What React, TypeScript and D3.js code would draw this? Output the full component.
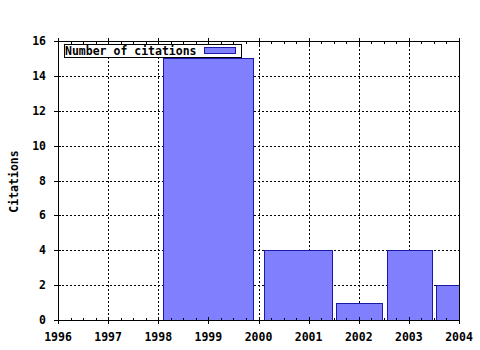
import React from "react";
import * as d3 from "d3";

const barStarts = [1998.1, 2000.1, 2001.55, 2002.56, 2003.55];
const barEnds = [1999.9, 2001.46, 2002.46, 2003.46, 2004.45];
const citations = [15, 4, 1, 4, 2];
const xTicks = [1996, 1997, 1998, 1999, 2000, 2001, 2002, 2003, 2004];
const yTicks = [0, 2, 4, 6, 8, 10, 12, 14, 16];
const legendLabel = "Number of citations";
const yTitle = "Citations";

const W = 480, H = 350;
const left = 58, right = 459, top = 41, bottom = 320;
const font = "'DejaVu Sans Mono', 'Liberation Mono', monospace";

export default function App() {
  const x = d3.scaleLinear().domain([1996, 2004]).range([left, right]);
  const y = d3.scaleLinear().domain([0, 16]).range([bottom, top]);
  const minor = d3.range(1996, 2004.001, 0.25).filter((v) => Math.abs(v - Math.round(v)) > 1e-6);

  return (
    <svg width={W} height={H} style={{ position: "absolute", left: 0, top: 0 }}>
      <rect width={W} height={H} fill="#fff" />
      <defs>
        <clipPath id="plot">
          <rect x={left} y={top} width={right - left} height={bottom - top} />
        </clipPath>
      </defs>
      {/* grid */}
      {xTicks.slice(1, -1).map((t) => (
        <line key={"gx" + t} x1={x(t) + 0.5} x2={x(t) + 0.5} y1={top} y2={bottom}
          stroke="#000" strokeDasharray="2,2" strokeWidth={1} shapeRendering="crispEdges" />
      ))}
      {yTicks.slice(1, -1).map((t) => (
        <line key={"gy" + t} x1={left} x2={right} y1={Math.round(y(t)) + 0.5} y2={Math.round(y(t)) + 0.5}
          stroke="#000" strokeDasharray="2,2" strokeWidth={1} shapeRendering="crispEdges" />
      ))}
      {/* bars */}
      <g clipPath="url(#plot)">
        {citations.map((v, i) => (
          <rect key={i} x={Math.round(x(barStarts[i])) + 0.5} y={Math.round(y(v)) + 0.5}
            width={Math.round(x(barEnds[i]) - x(barStarts[i]))}
            height={Math.round(y(0) - y(v))}
            fill="#8080ff" stroke="#1a1aa6" strokeWidth={1} shapeRendering="crispEdges" />
        ))}
      </g>
      {/* frame */}
      <rect x={left + 0.5} y={top + 0.5} width={right - left} height={bottom - top}
        fill="none" stroke="#000" strokeWidth={1} shapeRendering="crispEdges" />
      {/* x ticks */}
      {xTicks.map((t) => (
        <g key={"xt" + t}>
          <line x1={x(t) + 0.5} x2={x(t) + 0.5} y1={bottom - 3} y2={bottom + 4} stroke="#000" shapeRendering="crispEdges" />
          <line x1={x(t) + 0.5} x2={x(t) + 0.5} y1={top - 3} y2={top + 4} stroke="#000" shapeRendering="crispEdges" />
          <text x={x(t)} y={341} textAnchor="middle" fontFamily={font} fontWeight="bold" fontSize={11.5} fill="#000">
            {t}
          </text>
        </g>
      ))}
      {minor.map((t) => (
        <g key={"mt" + t}>
          <line x1={Math.round(x(t)) + 0.5} x2={Math.round(x(t)) + 0.5} y1={bottom - 2} y2={bottom + 1} stroke="#000" shapeRendering="crispEdges" />
          <line x1={Math.round(x(t)) + 0.5} x2={Math.round(x(t)) + 0.5} y1={top} y2={top + 3} stroke="#000" shapeRendering="crispEdges" />
        </g>
      ))}
      {/* y ticks */}
      {yTicks.map((t) => (
        <g key={"yt" + t}>
          <line x1={left - 4} x2={left + 3} y1={Math.round(y(t)) + 0.5} y2={Math.round(y(t)) + 0.5} stroke="#000" shapeRendering="crispEdges" />
          <text x={46} y={y(t) + 4} textAnchor="end" fontFamily={font} fontWeight="bold" fontSize={11.5} fill="#000">
            {t}
          </text>
        </g>
      ))}
      {/* y title */}
      <text transform={`translate(18,${(top + bottom) / 2 + 1}) rotate(-90)`} textAnchor="middle"
        fontFamily={font} fontWeight="bold" fontSize={11.5} fill="#000">
        {yTitle}
      </text>
      {/* legend */}
      <rect x={64.5} y={44.5} width={177} height={13} fill="#fff" stroke="#000" shapeRendering="crispEdges" />
      <text x={65} y={55} fontFamily={font} fontWeight="bold" fontSize={11.5} fill="#000">
        {legendLabel}
      </text>
      <rect x={204.5} y={47.5} width={31} height={6} fill="#8080ff" stroke="#1a1aa6" shapeRendering="crispEdges" />
    </svg>
  );
}
